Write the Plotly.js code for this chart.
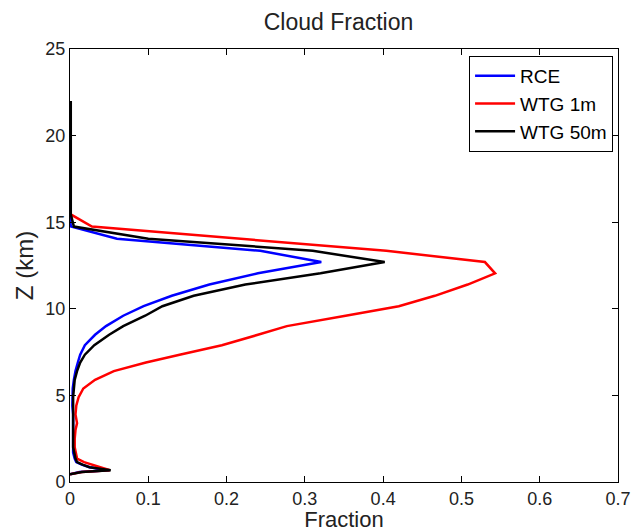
<!DOCTYPE html>
<html>
<head>
<meta charset="utf-8">
<script src="https://cdn.plot.ly/plotly-3.0.1.min.js"></script>
<style>html,body{margin:0;padding:0;background:#fff;}#chart{width:633px;height:532px;}</style>
</head>
<body>
<div id="chart"></div>
<script>
// Heights (km)
const heightKm = [0.45, 0.58, 0.68, 0.85, 1.0, 1.15, 1.35, 1.7, 2.0, 2.5, 3.0, 3.4, 3.9, 4.4, 4.9, 5.4, 5.9, 6.4, 6.9, 7.35, 7.9, 8.5, 9.0, 9.6, 10.15, 10.75, 11.4, 12.05, 12.7, 13.35, 14.05, 14.75, 15.45, 16.2, 17.0, 18.0, 19.0, 20.0, 21.0, 22.0];
// Cloud fraction series
const rce    = [0, 0.012, 0.050, 0.025, 0.015, 0.008, 0.006, 0.004, 0.004, 0.004, 0.004, 0.004, 0.004, 0.003, 0.003, 0.0035, 0.005, 0.007, 0.010, 0.013, 0.019, 0.032, 0.046, 0.068, 0.094, 0.130, 0.178, 0.240, 0.321, 0.243, 0.060, 0.001, 0, 0, 0, 0, 0, 0, 0, 0];
const wtg1m  = [0, 0.015, 0.051, 0.040, 0.028, 0.018, 0.009, 0.007, 0.006, 0.006, 0.007, 0.009, 0.007, 0.008, 0.011, 0.017, 0.032, 0.056, 0.097, 0.140, 0.194, 0.240, 0.277, 0.352, 0.420, 0.466, 0.508, 0.543, 0.530, 0.404, 0.220, 0.028, 0.001, 0, 0, 0, 0, 0, 0, 0];
const wtg50m = [0, 0.015, 0.052, 0.025, 0.016, 0.009, 0.007, 0.005, 0.004, 0.004, 0.004, 0.004, 0.004, 0.004, 0.004, 0.005, 0.006, 0.009, 0.013, 0.019, 0.031, 0.050, 0.068, 0.096, 0.118, 0.158, 0.224, 0.320, 0.402, 0.310, 0.100, 0.005, 0.001, 0.001, 0.001, 0.001, 0.001, 0.001, 0.001, 0.001];
const seriesNames = ["RCE", "WTG 1m", "WTG 50m"];
const seriesColors = ["#0000ff", "#ff0000", "#000000"];
const xTicks = [0, 0.1, 0.2, 0.3, 0.4, 0.5, 0.6, 0.7];
const yTicks = [0, 5, 10, 15, 20, 25];

const seriesData = [rce, wtg1m, wtg50m];
const traces = seriesData.map((vals, i) => ({
  x: vals, y: heightKm, type: 'scatter', mode: 'lines',
  name: seriesNames[i],
  line: {color: seriesColors[i], width: 2.5}
}));

const fontFam = '"Liberation Sans", Arial, Helvetica, sans-serif';
const axisCommon = {
  showgrid: false, zeroline: false, showline: true, linecolor: '#000', linewidth: 1,
  mirror: 'ticks', ticks: 'inside', ticklen: 6, tickcolor: '#000', tickwidth: 1,
  tickfont: {family: fontFam, size: 18, color: '#222'}
};
const layout = {
  width: 633, height: 532,
  margin: {l: 70, r: 15, t: 49, b: 50},
  paper_bgcolor: '#fff', plot_bgcolor: '#fff',
  title: {text: 'Cloud Fraction', font: {family: fontFam, size: 23, color: '#222'},
          x: 0.49, xref: 'paper', xanchor: 'center', y: 1 - 22/532, yref: 'container', yanchor: 'middle'},
  xaxis: Object.assign({}, axisCommon, {
    range: [0, 0.7], tickvals: xTicks, ticktext: xTicks.map(String),
    title: {text: 'Fraction', font: {family: fontFam, size: 22, color: '#222'}, standoff: 6}
  }),
  yaxis: Object.assign({}, axisCommon, {
    range: [0, 25], tickvals: yTicks, ticktext: yTicks.map(String),
    title: {text: 'Z (km)', font: {family: fontFam, size: 24, color: '#222'}, standoff: 4}
  }),
  showlegend: true,
  legend: {x: 0.991, xanchor: 'right', y: 0.984, yanchor: 'top',
           bgcolor: '#fff', bordercolor: '#000', borderwidth: 1, itemwidth: 40,
           font: {family: fontFam, size: 19, color: '#000'}, tracegroupgap: 0}
};
Plotly.newPlot('chart', traces, layout, {displayModeBar: false, staticPlot: true});
</script>
</body>
</html>
